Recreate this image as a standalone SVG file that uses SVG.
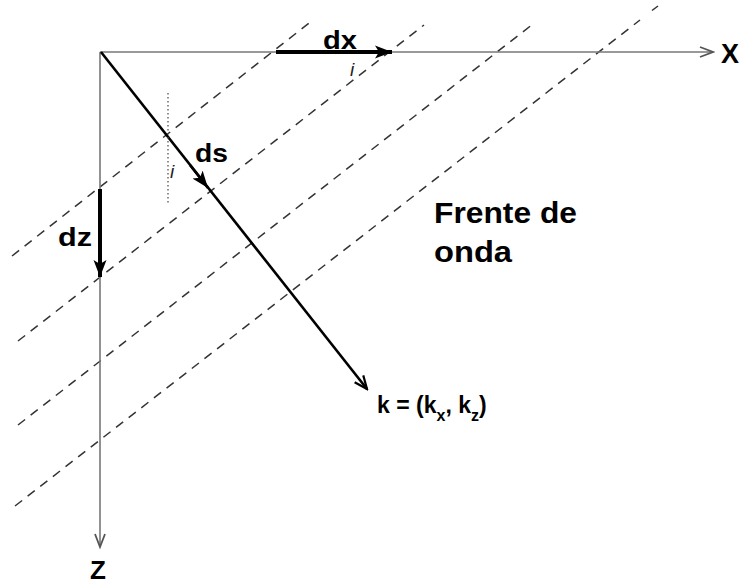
<svg xmlns="http://www.w3.org/2000/svg" width="741" height="585" viewBox="0 0 741 585">
<style>
.axis{stroke:#777;stroke-width:1.6;fill:none}
.front{stroke:#333;stroke-width:1.5;fill:none;stroke-dasharray:9 7}
.vec{stroke:#000;stroke-width:2.6;fill:none}
.thick{stroke:#000;stroke-width:4;fill:none}
.lbl{font-family:"Liberation Sans",Arial,sans-serif;font-weight:bold;fill:#000}
.ang{font-family:"Liberation Sans",Arial,sans-serif;font-style:italic;font-size:19px;fill:#222}
</style>
<defs>
<marker id="openGrey" markerWidth="16" markerHeight="12" refX="14" refY="6" orient="auto" markerUnits="userSpaceOnUse">
<path d="M1,1 L14,6 L1,11" fill="none" stroke="#555" stroke-width="1.8"/>
</marker>
<marker id="openBlack" markerWidth="16" markerHeight="14" refX="14" refY="7" orient="auto" markerUnits="userSpaceOnUse">
<path d="M1,1.5 L14,7 L1,12.5" fill="none" stroke="#000" stroke-width="2.2"/>
</marker>
<marker id="filled" markerWidth="18" markerHeight="14" refX="17" refY="7" orient="auto" markerUnits="userSpaceOnUse">
<path d="M0,0.5 L17,7 L0,13.5 L4,7 Z" fill="#000"/>
</marker>
</defs>
<g id="wavefronts">
<line class="front" x1="12" y1="256" x2="313" y2="20"/>
<line class="front" x1="18" y1="341" x2="424" y2="25"/>
<line class="front" x1="18" y1="425" x2="533" y2="24"/>
<line class="front" x1="15" y1="506" x2="640" y2="20"/>
<line class="front" x1="652" y1="10.5" x2="658" y2="6"/>
</g>
<g id="connectors">
<line class="axis" x1="100" y1="52" x2="713" y2="52" marker-end="url(#openGrey)"/>
<line class="axis" x1="100" y1="52" x2="100" y2="547" marker-end="url(#openGrey)"/>
<line class="vec" x1="101" y1="52" x2="367" y2="389" marker-end="url(#openBlack)"/>
<line class="vec" x1="190" y1="165" x2="208" y2="188" marker-end="url(#filled)"/>
<line class="thick" x1="276" y1="52" x2="392" y2="52" marker-end="url(#filled)"/>
<line class="thick" x1="100" y1="189" x2="100" y2="277" marker-end="url(#filled)"/>
<line x1="168" y1="93" x2="168" y2="203" stroke="#555" stroke-width="1.3" stroke-dasharray="1.5 2.5"/>
</g>
<g id="label-X"><text class="lbl" x="721" y="63" font-size="27">X</text></g>
<g id="label-Z"><text class="lbl" x="98" y="579" font-size="26" text-anchor="middle">Z</text></g>
<g id="label-dx"><text class="lbl" x="323" y="49" font-size="26" textLength="34" lengthAdjust="spacingAndGlyphs">dx</text></g>
<g id="label-ds"><text class="lbl" x="195" y="162" font-size="25" textLength="33" lengthAdjust="spacingAndGlyphs">ds</text></g>
<g id="label-dz"><text class="lbl" x="58" y="246" font-size="25" textLength="34" lengthAdjust="spacingAndGlyphs">dz</text></g>
<g id="label-i1"><text class="ang" x="350" y="76">i</text></g>
<g id="label-i2"><text class="ang" x="170" y="178">i</text></g>
<g id="label-front">
<text class="lbl" x="434" y="223" font-size="30" textLength="143" lengthAdjust="spacingAndGlyphs">Frente de</text>
<text class="lbl" x="434" y="262" font-size="30" textLength="78" lengthAdjust="spacingAndGlyphs">onda</text>
</g>
<g id="label-k"><text class="lbl" x="377" y="413" font-size="23">k = (k<tspan font-size="16" dy="8">x</tspan><tspan dy="-8">, k</tspan><tspan font-size="16" dy="8">z</tspan><tspan dy="-8">)</tspan></text></g>
</svg>
